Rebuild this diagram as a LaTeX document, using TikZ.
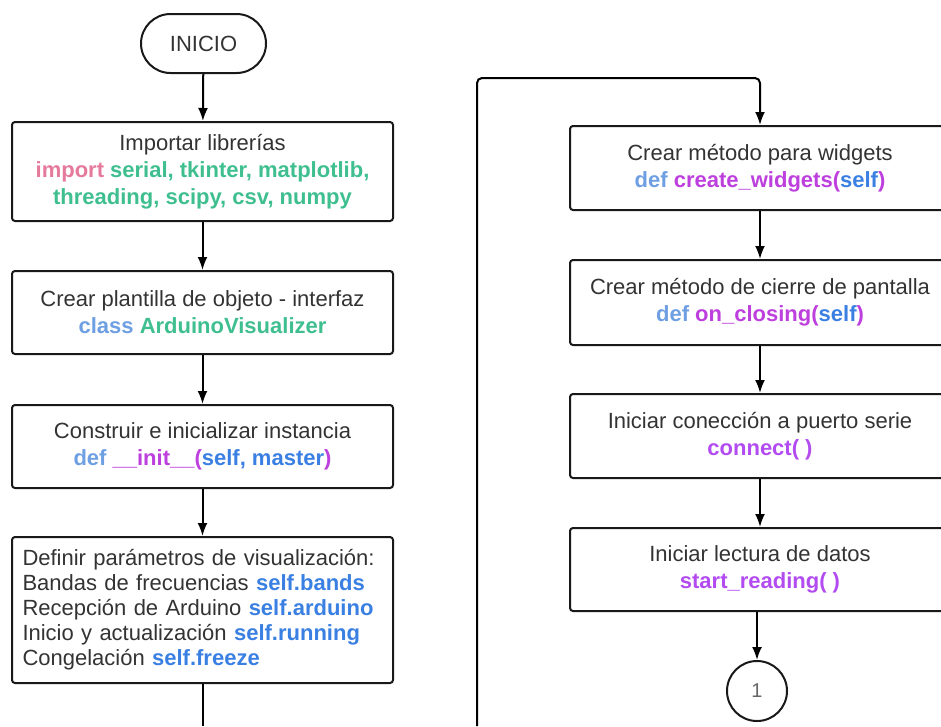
\documentclass[tikz,border=0pt]{standalone}
\usepackage{fontspec}
\setmainfont{Liberation Sans}
\usetikzlibrary{arrows.meta,shapes.misc}
\definecolor{txt}{HTML}{333333}
\definecolor{imp}{HTML}{E57A9C}
\definecolor{lib}{HTML}{3FBF8F}
\definecolor{kw}{HTML}{6E9FE2}
\definecolor{fn}{HTML}{BD3FDD}
\definecolor{sf}{HTML}{3A7FE2}
\definecolor{pu}{HTML}{B24CF0}
\begin{document}
\begin{tikzpicture}[x=1pt,y=-1pt,
  box/.style={draw=black!90, line width=2pt, rounded corners=3pt, minimum width=381pt,
    text=txt, align=center, font=\fontsize{22}{27}\selectfont, inner sep=0pt},
  arr/.style={line width=2pt, -{Latex[length=13pt,width=10pt]}},
  ln/.style={line width=2pt}]
\useasboundingbox (0,0) rectangle (941,726);
\clip (0,0) rectangle (941,726);

\node[draw=black!90, line width=2pt, rounded rectangle, minimum width=125pt, minimum height=59pt,
  text=txt, font=\fontsize{22}{27}\selectfont, inner sep=0pt] (ini) at (203.5,43.5) {INICIO};

\node[box, minimum height=99pt] (b1) at (202.5,171.5)
  {Importar librerías\\
   {\bfseries\color{imp}import \color{lib}serial, tkinter, matplotlib,}\\
   {\bfseries\color{lib}threading, scipy, csv, numpy}};

\node[box, minimum height=83pt] (b2) at (202.5,312.5)
  {Crear plantilla de objeto - interfaz\\
   {\bfseries\color{kw}class \color{lib}ArduinoVisualizer}};

\node[box, minimum height=83pt] (b3) at (202.5,446.5)
  {Construir e inicializar instancia\\
   {\bfseries\color{kw}def \color{fn}\_\_init\_\_(\color{sf}self, master\color{fn})}};

\node[box, minimum height=146pt, text width=360pt, align=left,
  font=\fontsize{22}{25}\selectfont] (b4) at (202.5,610)
  {Definir parámetros de visualización:\\
   Bandas de frecuencias {\bfseries\color{sf}self.bands}\\
   Recepción de Arduino {\bfseries\color{sf}self.arduino}\\
   Inicio y actualización {\bfseries\color{sf}self.running}\\
   Congelación {\bfseries\color{sf}self.freeze}};

\node[box, minimum width=380pt, minimum height=84pt] (b5) at (760,168)
  {Crear método para widgets\\
   {\bfseries\color{kw}def \color{fn}create\_widgets(\color{sf}self\color{fn})}};

\node[box, minimum width=380pt, minimum height=85pt] (b6) at (760,302.5)
  {Crear método de cierre de pantalla\\
   {\bfseries\color{kw}def \color{fn}on\_closing(\color{sf}self\color{fn})}};

\node[box, minimum width=380pt, minimum height=84pt] (b7) at (760,436)
  {Iniciar conección a puerto serie\\
   {\bfseries\color{pu}connect( )}};

\node[box, minimum width=380pt, minimum height=83pt] (b8) at (760,569.5)
  {Iniciar lectura de datos\\
   {\bfseries\color{pu}start\_reading( )}};

\node[draw=black!90, line width=2pt, circle, minimum size=60pt, inner sep=0pt,
  text=black!60, font=\fontsize{20}{24}\selectfont] (c1) at (757,691) {1};

\coordinate (lbot) at (202.5,726);
\coordinate (rbot) at (477,726);
\coordinate (rtop) at (477,78);

\draw[arr] (ini) -- (b1);
\draw[arr] (b1) -- (b2);
\draw[arr] (b2) -- (b3);
\draw[arr] (b3) -- (b4);
\draw[ln] (b4.south) -- (lbot);
\draw[arr, rounded corners=5pt] (rbot) -- (rtop) -| (b5.north);
\draw[arr] (b5) -- (b6);
\draw[arr] (b6) -- (b7);
\draw[arr] (b7) -- (b8);
\draw[arr] (b8.south -| c1) -- (c1);
\end{tikzpicture}
\end{document}
